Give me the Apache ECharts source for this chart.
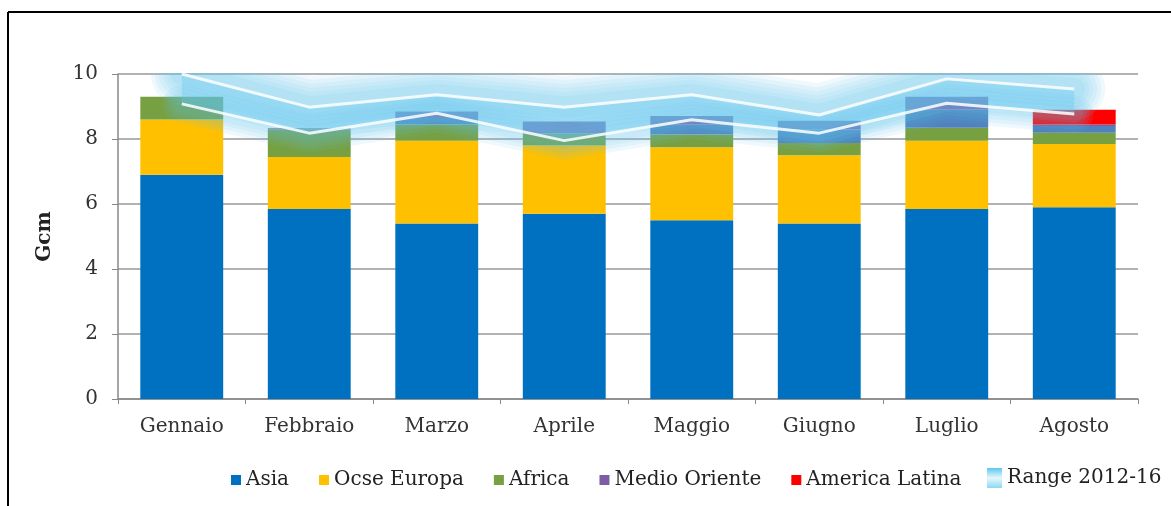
<!DOCTYPE html>
<html>
<head>
<meta charset="utf-8">
<script src="https://cdn.jsdelivr.net/npm/echarts@6.0.0/dist/echarts.min.js"></script>
<style>
  html, body { margin: 0; padding: 0; background: #fff; }
  #layout { width: 1171px; height: 506px; }
</style>
</head>
<body>
<div id="layout"></div>
<script>
// dati (Gcm)
const mesi = ['Gennaio', 'Febbraio', 'Marzo', 'Aprile', 'Maggio', 'Giugno', 'Luglio', 'Agosto'];
const asia = [6.9, 5.85, 5.4, 5.7, 5.5, 5.4, 5.85, 5.9];
const ocseEuropa = [1.7, 1.6, 2.55, 2.1, 2.25, 2.1, 2.1, 1.95];
const africa = [0.7, 0.85, 0.5, 0.37, 0.39, 0.38, 0.4, 0.34];
const altri = [0, 0, 0.2, 0, 0.3, 0.41, 0.55, 0.21];
const medioOriente = [0, 0.03, 0.2, 0.37, 0.27, 0.27, 0.4, 0.05];
const americaLatina = [0, 0, 0, 0, 0, 0, 0, 0.45];
const rangeMax = [10.0, 8.98, 9.36, 8.98, 9.36, 8.74, 9.85, 9.54];
const rangeMin = [9.08, 8.18, 8.79, 7.95, 8.59, 8.18, 9.1, 8.77];
const yTicks = [0, 2, 4, 6, 8, 10];

const font = 'DejaVu Serif';

let myChart = null;

function barSerie(name, data, color) {
    return {
        name: name,
        type: 'bar',
        stack: 'tot',
        barCategoryGap: '35%',
        itemStyle: { color: color },
        data: data,
        z: 2
    };
}

// linee larghe e trasparenti per fare l'alone azzurro
function glowSerie(data, width, alpha) {
    return {
        type: 'line',
        data: data,
        symbol: 'none',
        silent: true,
        lineStyle: { color: 'rgba(95,198,240,' + alpha + ')', width: width, cap: 'round', join: 'round' },
        z: 3
    };
}

window.onload = function() {
    myChart = echarts.init(document.getElementById('layout'));
    let rangeDiff = rangeMax.map((v, i) => +(v - rangeMin[i]).toFixed(2));
    let glowLayers = [];
    [62, 54, 46, 38, 30, 22].forEach(w => glowLayers.push(glowSerie(rangeMax, w, 0.1)));
    [38, 31, 24, 17].forEach(w => glowLayers.push(glowSerie(rangeMin, w, 0.1)));
    let option = {
        animation: false,
        grid: { left: 118, right: 33, top: 74, bottom: 107 },
        graphic: [
            // copre l'alone sopra l'area del grafico
            { type: 'rect', z: 100, shape: { x: 119, y: 14, width: 1052, height: 59 }, style: { fill: '#fff' } },
            { type: 'line', z: 101, shape: { x1: 8, y1: 12, x2: 1171, y2: 12 }, style: { stroke: '#000', lineWidth: 2 } },
            { type: 'line', z: 101, shape: { x1: 8, y1: 12, x2: 8, y2: 506 }, style: { stroke: '#000', lineWidth: 2 } }
        ],
        legend: [
            {
                data: ['Asia', 'Ocse Europa', 'Africa', 'Medio Oriente', 'America Latina'],
                left: 226, top: 465,
                icon: 'rect', itemWidth: 10, itemHeight: 10, itemGap: 30,
                textStyle: { fontFamily: font, fontSize: 20, color: '#222' }
            },
            {
                data: [{
                    name: 'Range 2012-16',
                    itemStyle: {
                        color: new echarts.graphic.LinearGradient(0, 0, 0, 1, [
                            { offset: 0, color: '#5cc8ef' },
                            { offset: 0.5, color: '#e6f7fd' },
                            { offset: 1, color: '#8bd8f3' }
                        ])
                    }
                }],
                left: 982, top: 463,
                icon: 'rect', itemWidth: 15, itemHeight: 20,
                textStyle: { fontFamily: font, fontSize: 20, color: '#222' }
            }
        ],
        xAxis: {
            type: 'category',
            data: mesi,
            axisLine: { lineStyle: { color: '#888', width: 1.5 } },
            axisTick: { show: true, length: 5, lineStyle: { color: '#888' } },
            axisLabel: { fontFamily: font, fontSize: 20, color: '#333', margin: 18 }
        },
        yAxis: {
            type: 'value',
            min: yTicks[0],
            max: yTicks[yTicks.length - 1],
            interval: 2,
            name: 'Gcm',
            nameLocation: 'middle',
            nameGap: 63,
            nameTextStyle: { fontFamily: font, fontSize: 20, fontWeight: 'bold', color: '#222' },
            axisLine: { show: true, lineStyle: { color: '#888', width: 1.5 } },
            axisTick: { show: true, length: 6, lineStyle: { color: '#888' } },
            splitLine: { lineStyle: { color: '#999', width: 1.5 } },
            axisLabel: { fontFamily: font, fontSize: 20, color: '#333', margin: 20 }
        },
        series: [
            barSerie('Asia', asia, '#0070c0'),
            barSerie('Ocse Europa', ocseEuropa, '#ffc000'),
            barSerie('Africa', africa, '#77a043'),
            barSerie('Altri', altri, '#4f81bd'),
            barSerie('Medio Oriente', medioOriente, '#7d5ea6'),
            barSerie('America Latina', americaLatina, '#ff0000'),
            // fascia del range: base invisibile + differenza riempita
            {
                name: 'rangeBase',
                type: 'line',
                stack: 'range',
                data: rangeMin,
                symbol: 'none',
                lineStyle: { opacity: 0 },
                z: 3
            },
            {
                name: 'Range 2012-16',
                type: 'line',
                stack: 'range',
                data: rangeDiff,
                symbol: 'none',
                lineStyle: { opacity: 0 },
                itemStyle: { color: '#8bd8f3' },
                areaStyle: { color: 'rgba(100,200,242,0.5)' },
                z: 3
            }
        ].concat(glowLayers, [
            {
                name: 'rangeMaxLine',
                type: 'line',
                data: rangeMax,
                symbol: 'none',
                lineStyle: { color: 'rgba(255,255,255,0.85)', width: 3 },
                z: 4
            },
            {
                name: 'rangeMinLine',
                type: 'line',
                data: rangeMin,
                symbol: 'none',
                lineStyle: { color: 'rgba(255,255,255,0.85)', width: 3 },
                z: 4
            }
        ])
    };
    myChart.setOption(option);
};
</script>
</body>
</html>
